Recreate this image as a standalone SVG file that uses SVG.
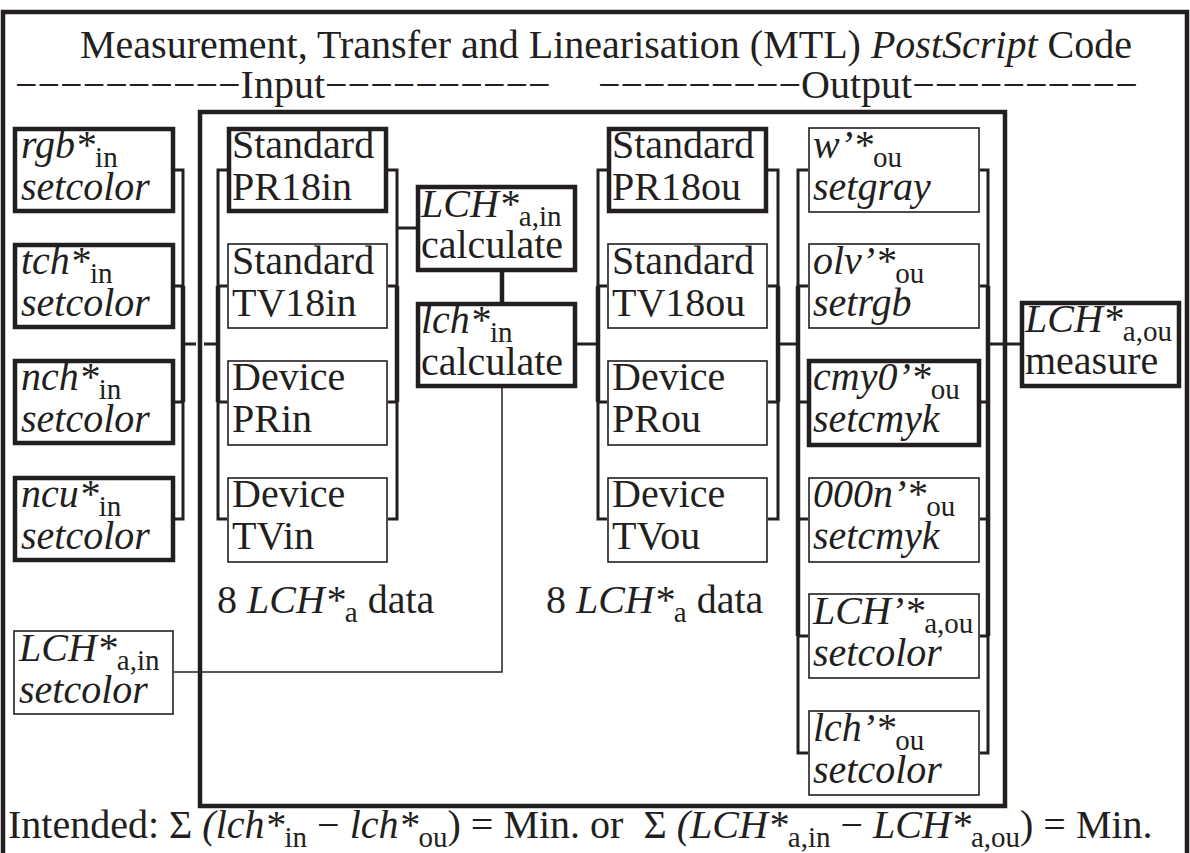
<svg xmlns="http://www.w3.org/2000/svg" width="1190" height="853" viewBox="0 0 1190 853">
<style>
text{font-family:"Liberation Serif","Times New Roman",serif;font-size:40px;fill:#231f20}
.i{font-style:italic}
.s{font-size:29px;font-style:normal}
.thick{fill:#fff;stroke:#231f20;stroke-width:4.5}
.thin{fill:#fff;stroke:#231f20;stroke-width:1.6}
.ln{fill:none;stroke:#231f20;stroke-width:3}
.lb{fill:none;stroke:#231f20;stroke-width:4.5}
.lt{fill:none;stroke:#231f20;stroke-width:1.5}
.frame{fill:none;stroke:#231f20;stroke-width:4.5}
</style>
<rect width="1190" height="853" fill="#fff"/>
<path class="frame" d="M3,853 V12 H1187 V853" stroke-width="3.5"/>
<g id="header">
<text x="80" y="58">Measurement, Transfer and Linearisation (MTL) <tspan class="i">PostScript</tspan> Code</text>
<text x="15" y="98">−−−−−−−−−−Input−−−−−−−−−−</text>
<text x="598" y="98">−−−−−−−−−Output−−−−−−−−−−</text>
</g>
<g id="connectors">
<path class="ln" d="M175,170 H183 V519 H175 M175,286 H183 M175,402 H183"/>
<path class="lb" d="M183,286 V402"/>
<path class="ln" d="M183,344 H196 M204,344 H218"/>
<path class="ln" d="M227,170 H218 V519 H227 M218,286 H227 M218,402 H227"/>
<path class="lb" d="M218,286 V402"/>
<path class="ln" d="M388,170 H397 V519 H388 M388,286 H397 M388,402 H397"/>
<path class="lb" d="M397,286 V402"/>
<path class="ln" d="M397,228 H416"/>
<path class="lb" d="M502,272 V302"/>
<path class="ln" d="M577,344 H598"/>
<path class="ln" d="M607,170 H598 V519 H607 M598,286 H607 M598,402 H607"/>
<path class="lb" d="M598,286 V402"/>
<path class="ln" d="M768,170 H778 V519 H768 M768,286 H778 M768,402 H778"/>
<path class="lb" d="M778,286 V402"/>
<path class="ln" d="M778,344 H798"/>
<path class="ln" d="M808,170 H798 V753 H808 M798,286 H808 M798,402 H808 M798,519 H808 M798,636 H808"/>
<path class="lb" d="M798,286 V636"/>
<path class="ln" d="M980,170 H988 V753 H980 M980,286 H988 M980,402 H988 M980,519 H988 M980,636 H988"/>
<path class="lb" d="M988,286 V636"/>
<path class="ln" d="M988,344 H1020"/>
<path class="lt" d="M174,672 H502 V388"/>
</g>
<rect class="frame" x="200" y="112" width="805" height="694"/>
<g id="in-rgb"><rect class="thick" x="15" y="129" width="158" height="82"/>
<text x="21" y="158"><tspan class="i">rgb*</tspan><tspan class="s" dy="9">in</tspan></text><text class="i" x="21" y="200">setcolor</text></g>
<g id="in-tch"><rect class="thick" x="15" y="245" width="158" height="82"/>
<text x="21" y="274"><tspan class="i">tch*</tspan><tspan class="s" dy="9">in</tspan></text><text class="i" x="21" y="316">setcolor</text></g>
<g id="in-nch"><rect class="thick" x="15" y="361" width="158" height="82"/>
<text x="21" y="390"><tspan class="i">nch*</tspan><tspan class="s" dy="9">in</tspan></text><text class="i" x="21" y="432">setcolor</text></g>
<g id="in-ncu"><rect class="thick" x="15" y="478" width="158" height="82"/>
<text x="21" y="507"><tspan class="i">ncu*</tspan><tspan class="s" dy="9">in</tspan></text><text class="i" x="21" y="549">setcolor</text></g>
<g id="in-lch-setcolor"><rect class="thin" x="14" y="631" width="159" height="83"/>
<text x="19" y="661"><tspan class="i">LCH*</tspan><tspan class="s" dy="9">a,in</tspan></text><text class="i" x="19" y="703">setcolor</text></g>
<g id="std-pr18in"><rect class="thick" x="229" y="129" width="157" height="82"/>
<text x="232" y="158">Standard</text><text x="232" y="200">PR18in</text></g>
<g id="std-tv18in"><rect class="thin" x="228" y="244" width="159" height="84"/>
<text x="232" y="274">Standard</text><text x="232" y="316">TV18in</text></g>
<g id="dev-prin"><rect class="thin" x="228" y="361" width="159" height="84"/>
<text x="232" y="390">Device</text><text x="232" y="432">PRin</text></g>
<g id="dev-tvin"><rect class="thin" x="228" y="478" width="159" height="84"/>
<text x="232" y="507">Device</text><text x="232" y="549">TVin</text></g>
<g id="calc-lch"><rect class="thick" x="418" y="187" width="157" height="83"/>
<text x="421" y="217"><tspan class="i">LCH*</tspan><tspan class="s" dy="9">a,in</tspan></text><text x="421" y="258">calculate</text></g>
<g id="calc-lch-small"><rect class="thick" x="418" y="304" width="157" height="82"/>
<text x="421" y="333"><tspan class="i">lch*</tspan><tspan class="s" dy="9">in</tspan></text><text x="421" y="375">calculate</text></g>
<g id="std-pr18ou"><rect class="thick" x="609" y="129" width="157" height="82"/>
<text x="612" y="158">Standard</text><text x="612" y="200">PR18ou</text></g>
<g id="std-tv18ou"><rect class="thin" x="608" y="244" width="159" height="84"/>
<text x="612" y="274">Standard</text><text x="612" y="316">TV18ou</text></g>
<g id="dev-prou"><rect class="thin" x="608" y="361" width="159" height="84"/>
<text x="612" y="390">Device</text><text x="612" y="432">PRou</text></g>
<g id="dev-tvou"><rect class="thin" x="608" y="478" width="159" height="84"/>
<text x="612" y="507">Device</text><text x="612" y="549">TVou</text></g>
<g id="out-w"><rect class="thin" x="809" y="128" width="170" height="84"/>
<text x="813" y="158"><tspan class="i">w’*</tspan><tspan class="s" dy="9">ou</tspan></text><text class="i" x="813" y="200">setgray</text></g>
<g id="out-olv"><rect class="thin" x="809" y="244" width="170" height="84"/>
<text x="813" y="274"><tspan class="i">olv’*</tspan><tspan class="s" dy="9">ou</tspan></text><text class="i" x="813" y="316">setrgb</text></g>
<g id="out-cmy0"><rect class="thick" x="809" y="361" width="170" height="84"/>
<text x="813" y="390"><tspan class="i">cmy0’*</tspan><tspan class="s" dy="9">ou</tspan></text><text class="i" x="813" y="432">setcmyk</text></g>
<g id="out-000n"><rect class="thin" x="809" y="478" width="170" height="84"/>
<text x="813" y="507"><tspan class="i">000n’*</tspan><tspan class="s" dy="9">ou</tspan></text><text class="i" x="813" y="549">setcmyk</text></g>
<g id="out-lch-a"><rect class="thin" x="809" y="594" width="170" height="84"/>
<text x="813" y="624"><tspan class="i">LCH’*</tspan><tspan class="s" dy="9">a,ou</tspan></text><text class="i" x="813" y="666">setcolor</text></g>
<g id="out-lch"><rect class="thin" x="809" y="711" width="170" height="84"/>
<text x="813" y="741"><tspan class="i">lch’*</tspan><tspan class="s" dy="9">ou</tspan></text><text class="i" x="813" y="783">setcolor</text></g>
<g id="measure"><rect class="thick" x="1022" y="303" width="157" height="83"/>
<text x="1025" y="332"><tspan class="i">LCH*</tspan><tspan class="s" dy="9">a,ou</tspan></text><text x="1025" y="374">measure</text></g>
<g id="labels">
<text x="217" y="613">8 <tspan class="i">LCH*</tspan><tspan class="s" dy="9">a</tspan><tspan dy="-9"> data</tspan></text>
<text x="546" y="613">8 <tspan class="i">LCH*</tspan><tspan class="s" dy="9">a</tspan><tspan dy="-9"> data</tspan></text>
<text x="8" y="838">Intended: Σ <tspan class="i">(lch*</tspan><tspan class="s" dy="9">in</tspan><tspan dy="-9"> − </tspan><tspan class="i">lch*</tspan><tspan class="s" dy="9">ou</tspan><tspan dy="-9">) = Min. or &#160;Σ </tspan><tspan class="i">(LCH*</tspan><tspan class="s" dy="9">a,in</tspan><tspan dy="-9"> − </tspan><tspan class="i">LCH*</tspan><tspan class="s" dy="9">a,ou</tspan><tspan dy="-9">) = Min.</tspan></text>
</g>
</svg>
